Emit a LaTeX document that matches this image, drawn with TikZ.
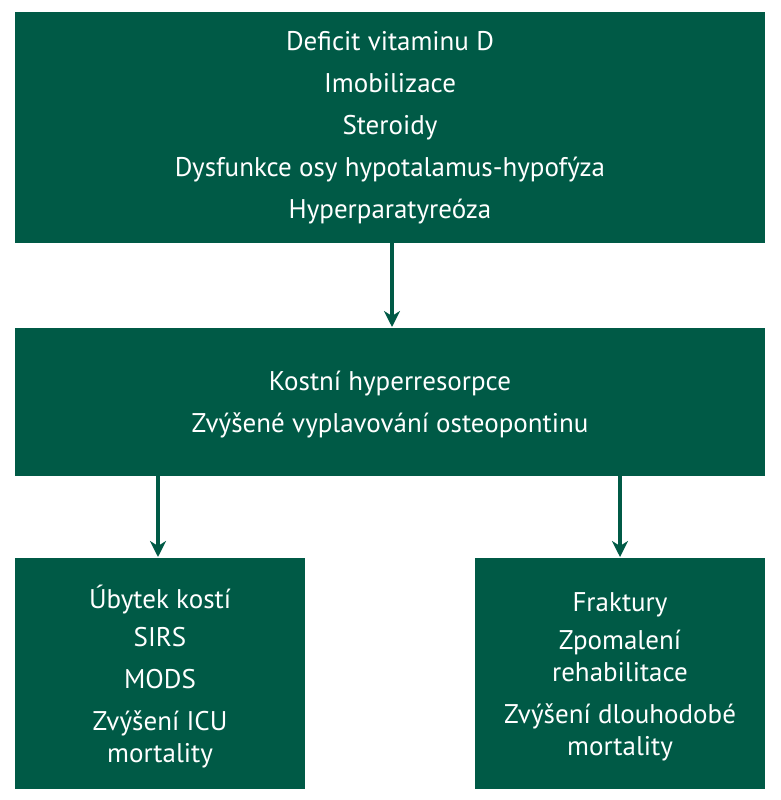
\documentclass[tikz,border=0pt]{standalone}
\usepackage{fontspec}
\setmainfont{PT Sans}
\usetikzlibrary{arrows.meta}
\definecolor{gr}{HTML}{005A46}
\begin{document}
\begin{tikzpicture}[x=1pt,y=-1pt,
 box/.style={fill=gr,draw=none,text=white,font=\fontsize{27}{42}\selectfont,align=center,inner sep=0},
 arr/.style={draw=gr,line width=3.5pt,-{Stealth[length=16pt,width=16pt,inset=5pt]}}]
\useasboundingbox (0,0) rectangle (780,800);
\fill[gr] (15,12) rectangle (765,243);
\node[box] (top) at (390,128) {Deficit vitaminu D\\Imobilizace\\Steroidy\\Dysfunkce osy hypotalamus-hypofýza\\Hyperparatyreóza};
\fill[gr] (15,328) rectangle (765,476);
\node[box] (mid) at (390,405) {Kostní hyperresorpce\\Zvýšené vyplavování osteopontinu};
\fill[gr] (15,558) rectangle (305,789);
\node[box] (bl) at (160,677) {Úbytek kostí\\[-4pt]SIRS\\MODS\\Zvýšení ICU\\[-10pt]mortality};
\fill[gr] (475,558) rectangle (765,789);
\node[box] (br) at (620,677) {Fraktury\\[-4pt]Zpomalení\\[-10pt]rehabilitace\\Zvýšení dlouhodobé\\[-10pt]mortality};
\coordinate (a1) at (392,243); \coordinate (a2) at (392,327);
\coordinate (b1) at (158,476); \coordinate (b2) at (158,557);
\coordinate (c1) at (620,476); \coordinate (c2) at (620,557);
\draw[arr] (a1) -- (a2);
\draw[arr] (b1) -- (b2);
\draw[arr] (c1) -- (c2);
\end{tikzpicture}
\end{document}
